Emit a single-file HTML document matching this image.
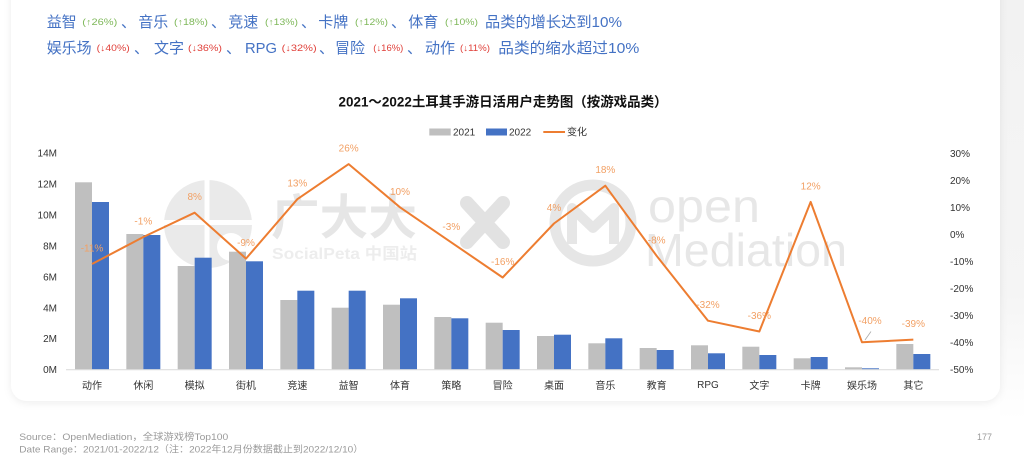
<!DOCTYPE html>
<html>
<head>
<meta charset="utf-8">
<style>
  html,body{margin:0;padding:0;background:#fff;}
  body{width:1024px;height:459px;overflow:hidden;}
  svg{display:block;font-family:"Liberation Sans","Noto Sans CJK SC",sans-serif;}
</style>
</head>
<body>
<svg width="1024" height="459" viewBox="0 0 1024 459" xmlns="http://www.w3.org/2000/svg">
  <defs>
    <linearGradient id="strip" x1="0" y1="0" x2="0" y2="1">
      <stop offset="0" stop-color="#f2f2f2"/>
      <stop offset="0.7" stop-color="#f5f5f5"/>
      <stop offset="1" stop-color="#ffffff"/>
    </linearGradient>
    <filter id="sh" x="-5%" y="-5%" width="110%" height="115%">
      <feDropShadow dx="0" dy="2" stdDeviation="4" flood-color="#000" flood-opacity="0.07"/>
    </filter>
  </defs>

  <rect x="1000" y="0" width="24" height="420" fill="url(#strip)"/>
  <!-- card -->
  <rect x="11" y="-30" width="989" height="431" rx="16" fill="#ffffff" filter="url(#sh)"/>

  <!-- header lines -->
  <g font-size="15" fill="#4472c4">
    <text x="46.7" y="27" textLength="30" lengthAdjust="spacingAndGlyphs">益智</text>
    <text x="121" y="27">、</text>
    <text x="138.3" y="27" textLength="30" lengthAdjust="spacingAndGlyphs">音乐</text>
    <text x="211" y="27">、</text>
    <text x="228.3" y="27" textLength="30" lengthAdjust="spacingAndGlyphs">竞速</text>
    <text x="301" y="27">、</text>
    <text x="318.3" y="27" textLength="30" lengthAdjust="spacingAndGlyphs">卡牌</text>
    <text x="391" y="27">、</text>
    <text x="408.3" y="27" textLength="30" lengthAdjust="spacingAndGlyphs">体育</text>
    <text x="485" y="27" textLength="137" lengthAdjust="spacingAndGlyphs">品类的增长达到10%</text>

    <text x="46.7" y="53" textLength="45" lengthAdjust="spacingAndGlyphs">娱乐场</text>
    <text x="134" y="53">、</text>
    <text x="154" y="53" textLength="30" lengthAdjust="spacingAndGlyphs">文字</text>
    <text x="226" y="53">、</text>
    <text x="245" y="53" textLength="32" lengthAdjust="spacingAndGlyphs">RPG</text>
    <text x="319" y="53">、</text>
    <text x="335" y="53" textLength="30" lengthAdjust="spacingAndGlyphs">冒险</text>
    <text x="407" y="53">、</text>
    <text x="425" y="53" textLength="30" lengthAdjust="spacingAndGlyphs">动作</text>
    <text x="498.3" y="53" textLength="141" lengthAdjust="spacingAndGlyphs">品类的缩水超过10%</text>
  </g>
  <g font-size="9" fill="#7fb85a">
    <text x="82.3" y="25" textLength="35" lengthAdjust="spacingAndGlyphs">(↑26%)</text>
    <text x="174" y="25" textLength="34" lengthAdjust="spacingAndGlyphs">(↑18%)</text>
    <text x="265" y="25" textLength="33" lengthAdjust="spacingAndGlyphs">(↑13%)</text>
    <text x="355" y="25" textLength="33" lengthAdjust="spacingAndGlyphs">(↑12%)</text>
    <text x="445" y="25" textLength="33" lengthAdjust="spacingAndGlyphs">(↑10%)</text>
  </g>
  <g font-size="9" fill="#e0403a">
    <text x="96.7" y="51" textLength="33" lengthAdjust="spacingAndGlyphs">(↓40%)</text>
    <text x="188" y="51" textLength="34" lengthAdjust="spacingAndGlyphs">(↓36%)</text>
    <text x="281.7" y="51" textLength="35" lengthAdjust="spacingAndGlyphs">(↓32%)</text>
    <text x="373.3" y="51" textLength="30" lengthAdjust="spacingAndGlyphs">(↓16%)</text>
    <text x="460" y="51" textLength="30" lengthAdjust="spacingAndGlyphs">(↓11%)</text>
  </g>

  <!-- title -->
  <text x="503" y="106.5" font-size="13.5" font-weight="bold" fill="#111" text-anchor="middle" textLength="329" lengthAdjust="spacingAndGlyphs">2021～2022土耳其手游日活用户走势图（按游戏品类）</text>

  <!-- legend -->
  <rect x="429.3" y="128.5" width="21.4" height="7" fill="#bfbfbf"/>
  <text x="453" y="135.5" font-size="10" fill="#333">2021</text>
  <rect x="486" y="128.5" width="21" height="7" fill="#4472c4"/>
  <text x="509" y="135.5" font-size="10" fill="#333">2022</text>
  <line x1="543.3" y1="132" x2="565" y2="132" stroke="#ed7d31" stroke-width="2"/>
  <text x="567" y="135.5" font-size="10" fill="#333">变化</text>

  <!-- watermarks -->
  <g opacity="0.7">
    <circle cx="208" cy="224" r="44" fill="#e2e2e2"/>
    <rect x="204.5" y="176" width="5" height="96" fill="#fff"/>
    <rect x="160" y="220" width="96" height="5" fill="#fff"/>
    <circle cx="231" cy="247" r="14" fill="#fff"/>
    <text x="271" y="234" font-size="48" font-weight="bold" fill="#dcdcdc" textLength="146" lengthAdjust="spacingAndGlyphs">广大大</text>
    <text x="272" y="259" font-size="16" font-weight="bold" fill="#e6e6e6" textLength="145" lengthAdjust="spacingAndGlyphs">SocialPeta 中国站</text>
    <path d="M467 203 L503 242 M503 203 L467 242" stroke="#d6d6d6" stroke-width="14" stroke-linecap="round"/>
    <circle cx="593" cy="223" r="38" fill="none" stroke="#dcdcdc" stroke-width="11"/>
    <path d="M572 244 L572 208 L593 228 L614 208 L614 244" fill="none" stroke="#dcdcdc" stroke-width="10" stroke-linejoin="round"/>
    <text x="648" y="222" font-size="46" fill="#dedede" textLength="112" lengthAdjust="spacingAndGlyphs">open</text>
    <text x="645" y="266" font-size="46" fill="#dedede" textLength="202" lengthAdjust="spacingAndGlyphs">Mediation</text>
  </g>

  <!-- bars -->
  <g fill="#bfbfbf">
    <rect x="75" y="182.3" width="17" height="187"/>
    <rect x="126.33" y="234" width="17" height="135.3"/>
    <rect x="177.67" y="266" width="17" height="103.3"/>
    <rect x="229" y="251.7" width="17" height="117.6"/>
    <rect x="280.33" y="300" width="17" height="69.3"/>
    <rect x="331.67" y="307.7" width="17" height="61.6"/>
    <rect x="383" y="304.7" width="17" height="64.6"/>
    <rect x="434.33" y="317" width="17" height="52.3"/>
    <rect x="485.67" y="322.7" width="17" height="46.6"/>
    <rect x="537" y="336" width="17" height="33.3"/>
    <rect x="588.33" y="343.3" width="17" height="26"/>
    <rect x="639.67" y="348" width="17" height="21.3"/>
    <rect x="691" y="345.3" width="17" height="24"/>
    <rect x="742.33" y="346.7" width="17" height="22.6"/>
    <rect x="793.67" y="358.3" width="17" height="11"/>
    <rect x="845" y="367.3" width="17" height="2"/>
    <rect x="896.33" y="344" width="17" height="25.3"/>
  </g>
  <g fill="#4472c4">
    <rect x="92" y="202" width="17" height="167.3"/>
    <rect x="143.33" y="235" width="17" height="134.3"/>
    <rect x="194.67" y="257.7" width="17" height="111.6"/>
    <rect x="246" y="261.3" width="17" height="108"/>
    <rect x="297.33" y="290.7" width="17" height="78.6"/>
    <rect x="348.67" y="290.7" width="17" height="78.6"/>
    <rect x="400" y="298.3" width="17" height="71"/>
    <rect x="451.33" y="318.3" width="17" height="51"/>
    <rect x="502.67" y="330" width="17" height="39.3"/>
    <rect x="554" y="334.7" width="17" height="34.6"/>
    <rect x="605.33" y="338.3" width="17" height="31"/>
    <rect x="656.67" y="350" width="17" height="19.3"/>
    <rect x="708" y="353.3" width="17" height="16"/>
    <rect x="759.33" y="355" width="17" height="14.3"/>
    <rect x="810.67" y="357" width="17" height="12.3"/>
    <rect x="862" y="368.3" width="17" height="1"/>
    <rect x="913.33" y="354" width="17" height="15.3"/>
  </g>

  <!-- baseline -->
  <line x1="66" y1="369.8" x2="939" y2="369.8" stroke="#d9d9d9" stroke-width="1"/>

  <!-- left axis -->
  <g font-size="10" fill="#333" text-anchor="end">
    <text x="57" y="156.5">14M</text>
    <text x="57" y="187.5">12M</text>
    <text x="57" y="218.4">10M</text>
    <text x="57" y="249.4">8M</text>
    <text x="57" y="280.3">6M</text>
    <text x="57" y="311.3">4M</text>
    <text x="57" y="342.2">2M</text>
    <text x="57" y="373.2">0M</text>
  </g>
  <!-- right axis -->
  <g font-size="10" fill="#333">
    <text x="950" y="157">30%</text>
    <text x="950" y="184">20%</text>
    <text x="950" y="211">10%</text>
    <text x="950" y="238">0%</text>
    <text x="950" y="265">-10%</text>
    <text x="950" y="292">-20%</text>
    <text x="950" y="319">-30%</text>
    <text x="950" y="346">-40%</text>
    <text x="950" y="373">-50%</text>
  </g>

  <!-- categories -->
  <g font-size="10" fill="#333" text-anchor="middle">
    <text x="92" y="389">动作</text>
    <text x="143.33" y="389">休闲</text>
    <text x="194.67" y="389">模拟</text>
    <text x="246" y="389">街机</text>
    <text x="297.33" y="389">竞速</text>
    <text x="348.67" y="389">益智</text>
    <text x="400" y="389">体育</text>
    <text x="451.33" y="389">策略</text>
    <text x="502.67" y="389">冒险</text>
    <text x="554" y="389">桌面</text>
    <text x="605.33" y="389">音乐</text>
    <text x="656.67" y="389">教育</text>
    <text x="708" y="388">RPG</text>
    <text x="759.33" y="389">文字</text>
    <text x="810.67" y="389">卡牌</text>
    <text x="862" y="389">娱乐场</text>
    <text x="913.33" y="389">其它</text>
  </g>

  <!-- line -->
  <polyline fill="none" stroke="#ed7d31" stroke-width="2" stroke-linejoin="round"
    points="92,264 143.33,237 194.67,212.7 246,258.6 297.33,199.2 348.67,164.1 400,207.3 451.33,242.4 502.67,277.5 554,223.5 605.33,185.7 656.67,255.9 708,320.7 759.33,331.5 810.67,201.9 862,342.3 913.33,339.6"/>
  <line x1="865" y1="340" x2="871" y2="331.5" stroke="#aaa" stroke-width="0.8"/>

  <!-- line labels -->
  <g font-size="10" fill="#f2a064" text-anchor="middle">
    <text x="92" y="251.5">-11%</text>
    <text x="143.33" y="224.5">-1%</text>
    <text x="194.67" y="200.2">8%</text>
    <text x="246" y="246.1">-9%</text>
    <text x="297.33" y="186.7">13%</text>
    <text x="348.67" y="151.6">26%</text>
    <text x="400" y="194.8">10%</text>
    <text x="451.33" y="229.9">-3%</text>
    <text x="502.67" y="265">-16%</text>
    <text x="554" y="211">4%</text>
    <text x="605.33" y="173.2">18%</text>
    <text x="656.67" y="243.4">-8%</text>
    <text x="708" y="308.2">-32%</text>
    <text x="759.33" y="319">-36%</text>
    <text x="810.67" y="189.4">12%</text>
    <text x="870" y="324.2">-40%</text>
    <text x="913.33" y="327.1">-39%</text>
  </g>

  <!-- footer -->
  <g font-size="9.5" fill="#9a9a9a">
    <text x="19.3" y="440" textLength="209" lengthAdjust="spacingAndGlyphs">Source：OpenMediation，全球游戏榜Top100</text>
    <text x="19.3" y="452.3" textLength="344" lengthAdjust="spacingAndGlyphs">Date Range：2021/01-2022/12（注：2022年12月份数据截止到2022/12/10）</text>
    <text x="977" y="440" textLength="15" lengthAdjust="spacingAndGlyphs">177</text>
  </g>
</svg>
</body>
</html>
